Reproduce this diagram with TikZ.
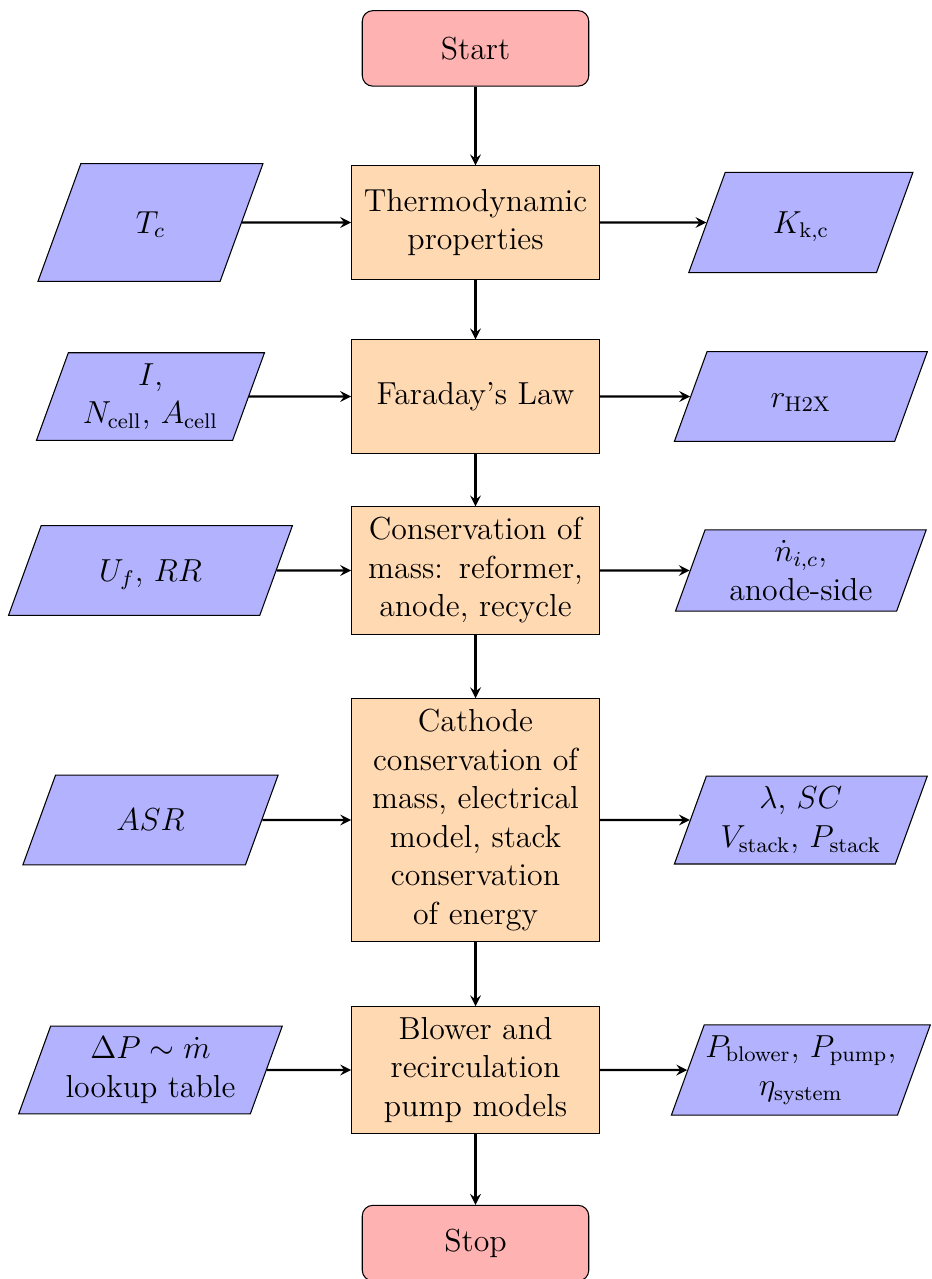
\documentclass[tikz,border=0pt,12pt]{standalone}
\usetikzlibrary{shapes.geometric}
\begin{document}
\begin{tikzpicture}[>=stealth,
  startstop/.style={rectangle,rounded corners,minimum width=3cm,minimum height=1cm,align=center,draw=black,fill=red!30},
  io/.style={trapezium,trapezium left angle=70,trapezium right angle=110,trapezium stretches body=true,inner xsep=0pt,minimum width=3.35cm,minimum height=1cm,align=center,draw=black,fill=blue!30},
  ioline/.style={text height=16.9pt,text depth=8.9pt},
  process/.style={rectangle,minimum width=3cm,minimum height=1.5cm,text width=3cm,align=center,draw=black,fill=orange!30},
  flowarrow/.style={thick,->}]
 \useasboundingbox (0,0) rectangle (12.331,-16.94);
 \node[startstop] (start) at (6.298,-0.641) {Start};
 \node[process] (thermo) at (6.298,-2.947) {Thermodynamic\\properties};
 \node[process] (faraday) at (6.298,-5.252) {Faraday's Law};
 \node[process] (massan) at (6.298,-7.556) {Conservation of\\mass: reformer,\\anode, recycle};
 \node[process] (cathode) at (6.298,-10.861) {Cathode\\conservation of\\mass, electrical\\model, stack\\conservation\\of energy};
 \node[process] (blower) at (6.298,-14.172) {Blower and\\recirculation\\pump models};
 \node[startstop] (stop) at (6.298,-16.464) {Stop};
 \node[io,minimum width=2.98cm,text height=22.2pt,text depth=14.2pt] (tc) at (1.993,-2.947) {$T_c$};
 \node[io,minimum width=3.02cm] (icell) at (1.993,-5.252) {$I$,\\$N_\mathrm{cell}$, $A_\mathrm{cell}$};
 \node[io,ioline,minimum width=3.76cm] (uf) at (1.993,-7.556) {$U_f$, $RR$};
 \node[io,ioline,minimum width=3.38cm] (asr) at (1.993,-10.861) {$ASR$};
 \node[io,minimum width=3.49cm] (dp) at (1.993,-14.172) {$\Delta P\sim\dot{m}$\\lookup table};
 \node[io,minimum width=2.97cm,text height=18.9pt,text depth=10.9pt] (kkc) at (10.607,-2.947) {$K_\mathrm{k,c}$};
 \node[io,ioline] (rh2x) at (10.607,-5.252) {$r_\mathrm{H2X}$};
 \node[io,minimum width=3.32cm] (ndot) at (10.607,-7.556) {$\dot{n}_{i,c}$,\\anode-side};
 \node[io] (lambda) at (10.607,-10.861) {$\lambda$, $SC$\\$V_\mathrm{stack}$, $P_\mathrm{stack}$};
 \node[io,minimum width=3.43cm] (power) at (10.607,-14.172) {$P_\mathrm{blower}$, $P_\mathrm{pump}$,\\$\eta_\mathrm{system}$};
 \draw[flowarrow] (start) -- (thermo);
 \draw[flowarrow] (thermo) -- (faraday);
 \draw[flowarrow] (faraday) -- (massan);
 \draw[flowarrow] (massan) -- (cathode);
 \draw[flowarrow] (cathode) -- (blower);
 \draw[flowarrow] (blower) -- (stop);
 \draw[flowarrow] (tc) -- (thermo);
 \draw[flowarrow] (icell) -- (faraday);
 \draw[flowarrow] (uf) -- (massan);
 \draw[flowarrow] (asr) -- (cathode);
 \draw[flowarrow] (dp) -- (blower);
 \draw[flowarrow] (thermo) -- (kkc);
 \draw[flowarrow] (faraday) -- (rh2x);
 \draw[flowarrow] (massan) -- (ndot);
 \draw[flowarrow] (cathode) -- (lambda);
 \draw[flowarrow] (blower) -- (power);
\end{tikzpicture}
\end{document}
